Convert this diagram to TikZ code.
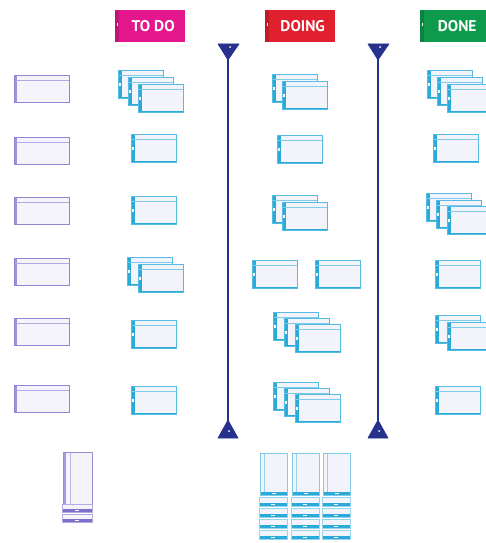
\documentclass[tikz,border=0pt]{standalone}
\usepackage{fontspec}
\setsansfont{PT Sans}
\usetikzlibrary{calc}
\definecolor{cyanc}{HTML}{2AAAD9}
\definecolor{cardfill}{HTML}{F3F4FB}
\definecolor{purc}{HTML}{7E6FCB}
\definecolor{purfill}{HTML}{F5F4FC}
\definecolor{navy}{HTML}{26318C}
\definecolor{todoc}{HTML}{E4178F}
\definecolor{doingc}{HTML}{E0202E}
\definecolor{donec}{HTML}{0D9A4C}
\tikzset{
  cardbase/.style={anchor=north west, inner sep=0pt, outer sep=0pt,
    minimum width=45pt, minimum height=28pt, line width=0.5pt},
  ccard/.style={cardbase, draw=cyanc!80, fill=cardfill, path picture={
    \fill[cyanc] (path picture bounding box.north west) rectangle ($(path picture bounding box.south west)+(3.5pt,0)$);
    \fill[white] ($(path picture bounding box.west)+(1pt,-1.5pt)$) rectangle ($(path picture bounding box.west)+(2.5pt,1.5pt)$);
    \draw[cyanc!60, line width=0.4pt] ($(path picture bounding box.north west)+(0,-5pt)$) -- ($(path picture bounding box.north east)+(0,-5pt)$);
    \draw[cyanc, line width=1.2pt] (path picture bounding box.south west) -- (path picture bounding box.south east);
  }},
  pcard/.style={cardbase, minimum width=55pt, minimum height=27pt, draw=purc!85, fill=purfill, path picture={
    \fill[purc!75] (path picture bounding box.north west) rectangle ($(path picture bounding box.south west)+(3pt,0)$);
    \draw[purc!60, line width=0.4pt] ($(path picture bounding box.north west)+(0,-5pt)$) -- ($(path picture bounding box.north east)+(0,-5pt)$);
    \draw[purc, line width=1pt, densely dashed] (path picture bounding box.south west) -- (path picture bounding box.south east);
  }},
  tallcard/.style={cardbase, minimum width=27pt, minimum height=42pt, draw=cyanc!60, fill=cardfill, path picture={
    \draw[cyanc!50, line width=0.5pt] ($(path picture bounding box.north west)+(4pt,0)$) -- ($(path picture bounding box.south west)+(4pt,0)$);
    \fill[cyanc] (path picture bounding box.south west) rectangle ($(path picture bounding box.south east)+(0,3.5pt)$);
    \fill[white] ($(path picture bounding box.south)+(-2pt,1pt)$) rectangle ($(path picture bounding box.south)+(2pt,2.5pt)$);
  }},
  strip/.style={cardbase, minimum width=28pt, minimum height=9pt, draw=cyanc!50, fill=cardfill, path picture={
    \fill[cyanc] (path picture bounding box.south west) rectangle ($(path picture bounding box.south east)+(0,3.5pt)$);
    \fill[white] ($(path picture bounding box.south)+(-2pt,1pt)$) rectangle ($(path picture bounding box.south)+(2pt,2.5pt)$);
  }},
  ptall/.style={cardbase, minimum width=29pt, minimum height=54pt, draw=purc!80, fill=purfill, path picture={
    \fill[purc!70] (path picture bounding box.north west) rectangle ($(path picture bounding box.south west)+(3pt,0)$);
    \draw[purc!50, line width=0.5pt] ($(path picture bounding box.north west)+(7pt,0)$) -- ($(path picture bounding box.south west)+(7pt,0)$);
  }},
  pstrip/.style={cardbase, minimum width=30pt, minimum height=8pt, draw=purc!60, fill=purfill, path picture={
    \fill[purc] (path picture bounding box.south west) rectangle ($(path picture bounding box.south east)+(0,3pt)$);
    \fill[white] ($(path picture bounding box.south)+(-2pt,1pt)$) rectangle ($(path picture bounding box.south)+(2pt,2pt)$);
  }},
  tag/.style={anchor=north west, inner sep=0pt, minimum width=70pt, minimum height=32pt,
    text=white, font=\sffamily\bfseries\fontsize{15.5}{17}\selectfont, path picture={
    \fill[black, opacity=0.15] (path picture bounding box.north west) rectangle ($(path picture bounding box.south west)+(4pt,0)$);
    \fill[white] ($(path picture bounding box.west)+(1.5pt,0)$) rectangle ($(path picture bounding box.west)+(2.5pt,3pt)$);
  }},
  pole/.style={navy, line width=1.3pt},
  poleend/.style={fill=navy, draw=navy, line width=0.6pt, line join=round},
}
\begin{document}
\begin{tikzpicture}[x=1pt,y=-1pt]
\clip (0,0) rectangle (486,543);
\fill[white] (0,0) rectangle (486,543);

% headers
\node[tag, fill=todoc] (todo) at (115,10) {\hspace{6pt}TO DO};
\node[tag, fill=doingc] (doing) at (265,10) {\hspace{5pt}DOING};
\node[tag, fill=donec] (done) at (420,10) {\hspace{4pt}DONE};

% poles
\coordinate (p1t) at (228,59);
\coordinate (p1b) at (228,421);
\coordinate (p2t) at (378,59);
\coordinate (p2b) at (378,421);
\draw[pole] (p1t) -- (p1b);
\draw[pole] (p2t) -- (p2b);
\foreach \p in {p1t,p2t}{
  \draw[poleend] ($(\p)+(0,1)$) -- ($(\p)+(-10,-15)$) -- ($(\p)+(11,-15)$) -- cycle;
  \fill[white] ($(\p)+(2,-12)$) circle (1);
}
\foreach \p in {p1b,p2b}{
  \draw[poleend] ($(\p)+(0,-1)$) -- ($(\p)+(-10,17)$) -- ($(\p)+(10,17)$) -- cycle;
  \fill[white] ($(\p)+(1,10)$) circle (1);
}

% backlog (purple)
\node[pcard] (b1) at (14,75) {};
\node[pcard] (b2) at (14,137) {};
\node[pcard] (b3) at (14,197) {};
\node[pcard] (b4) at (14,258) {};
\node[pcard] (b5) at (14,318) {};
\node[pcard] (b6) at (14,385) {};

% TO DO
\node[ccard] (t1a) at (118,70) {};
\node[ccard] (t1b) at (128,77) {};
\node[ccard] (t1c) at (138,84) {};
\node[ccard] (t2) at (131,134) {};
\node[ccard] (t3) at (131,196) {};
\node[ccard] (t4a) at (127,257) {};
\node[ccard] (t4b) at (138,264) {};
\node[ccard] (t5) at (131,320) {};
\node[ccard] (t6) at (131,386) {};

% DOING
\node[ccard] (d1a) at (272,74) {};
\node[ccard] (d1b) at (282,81) {};
\node[ccard] (d2) at (277,135) {};
\node[ccard] (d3a) at (272,195) {};
\node[ccard] (d3b) at (282,202) {};
\node[ccard] (d4a) at (252,260) {};
\node[ccard] (d4b) at (315,260) {};
\node[ccard] (d5a) at (273,312) {};
\node[ccard] (d5b) at (284,318) {};
\node[ccard] (d5c) at (295,324) {};
\node[ccard] (d6a) at (273,382) {};
\node[ccard] (d6b) at (284,388) {};
\node[ccard] (d6c) at (295,394) {};

% DONE
\node[ccard] (n1a) at (427,70) {};
\node[ccard] (n1b) at (437,77) {};
\node[ccard] (n1c) at (447,84) {};
\node[ccard] (n2) at (433,134) {};
\node[ccard] (n3a) at (426,193) {};
\node[ccard] (n3b) at (436,200) {};
\node[ccard] (n3c) at (447,206) {};
\node[ccard] (n4) at (435,260) {};
\node[ccard] (n5a) at (435,315) {};
\node[ccard] (n5b) at (447,322) {};
\node[ccard] (n6) at (435,386) {};

% bottom left purple pile
\node[ptall] (bl) at (63,452) {};
\node[pstrip] (bls1) at (62,504) {};
\node[pstrip] (bls2) at (62,514) {};

% bottom doing pile
\foreach \i/\x in {1/260,2/292,3/323}{
  \node[tallcard] (bt\i) at (\x,453) {};
  \foreach \j/\y in {1/497,2/508,3/519,4/530}{
    \node[strip] (bs\i\j) at ({\x-1},\y) {};
  }
}
\end{tikzpicture}
\end{document}
